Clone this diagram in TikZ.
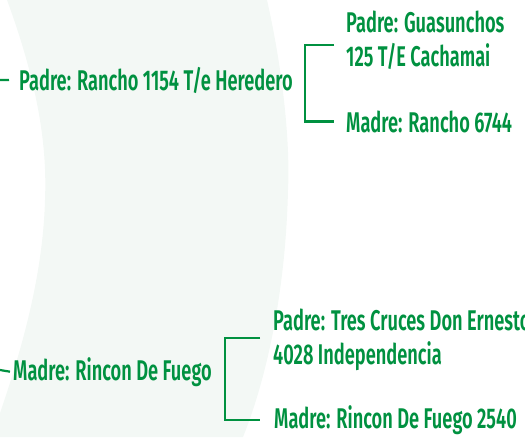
\documentclass[tikz,border=0pt]{standalone}
\usepackage{fontspec}
\newfontfamily\pedfont{Fira Sans SemiBold}[FakeStretch=0.64]
\definecolor{pedgreen}{RGB}{0,145,64}
\definecolor{pedback}{RGB}{243,248,245}

\begin{document}
\begin{tikzpicture}[x=1pt,y=-1pt,
    ped/.style={inner sep=0pt,anchor=base west,text=pedgreen,align=left,
      font=\pedfont\fontsize{28.5}{34}\selectfont},
    link/.style={draw=pedgreen,line width=2.2pt}]
    \useasboundingbox (0,0) rectangle (525,437);
    \fill[pedback] (7,0) .. controls (40,90) and (47,150) .. (45,200)
      .. controls (43,270) and (25,340) .. (0,413) -- (0,437) -- (243,437)
      .. controls (270,370) and (286,280) .. (288,190)
      .. controls (290,150) and (285,80) .. (267,0) -- cycle;

    \node[ped] (sire) at (19,90) {Padre: Rancho 1154 T/e Heredero};
    \node[ped] (sgs) at (346,66) {Padre: Guasunchos\\125 T/E Cachamai};
    \node[ped] (sgd) at (346,132) {Madre: Rancho 6744};
    \node[ped] (dam) at (13,380) {Madre: Rincon De Fuego};
    \node[ped] (dgs) at (273,364) {Padre: Tres Cruces Don Ernesto\\4028 Independencia};
    \node[ped] (dgd) at (274,428) {Madre: Rincon De Fuego 2540};

    \coordinate (sirein) at (0,80);
    \coordinate (damin) at (0,370);
    \coordinate (sgsarm) at (334,45);
    \coordinate (dgsarm) at (260,338);

    \draw[link] (sirein) -- ([xshift=-10pt]sire.west);
    \draw[link] (damin) -- ([xshift=-3pt]dam.west);
    \draw[link] (sgsarm) -| ([xshift=12pt]sire.east) |- ([xshift=-12pt]sgd.west);
    \draw[link] (dgsarm) -| ([xshift=13pt]dam.east) |- ([xshift=-14pt]dgd.west);
\end{tikzpicture}
\end{document}
